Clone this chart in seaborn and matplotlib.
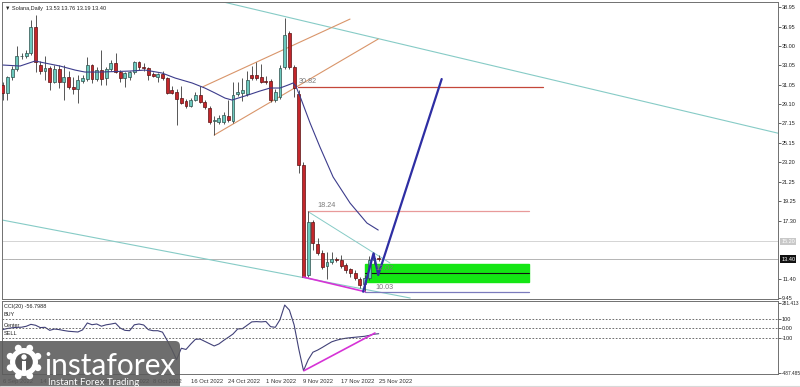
import numpy as np
import pandas as pd
import matplotlib
matplotlib.use("Agg")
import matplotlib.pyplot as plt
import matplotlib.transforms as mtransforms
from matplotlib.patches import Rectangle, FancyBboxPatch, Circle
import seaborn as sns

# Solana daily candles, bar 0 = 5 Sep 2022 ... bar 81 = 25 Nov 2022
opens = [31.3, 31.04, 30.23, 31.85, 32.66, 33.95, 33.98, 34.29, 36.92, 33.1,
         32.46, 32.76, 31.35, 32.66, 31.35, 31.85, 30.84, 30.64, 31.45, 31.65,
         33.07, 31.65, 32.56, 31.75, 32.66, 33.27, 32.36, 31.75, 31.85, 32.36,
         33.37, 32.9, 32.8, 32.2, 31.85, 32.2, 31.72, 30.5, 30.33, 29.7,
         29.4, 28.9, 29.5, 30.0, 29.35, 28.7, 27.35, 27.3, 27.3, 27.9,
         27.35, 30.1, 30.2, 30.1, 32.06, 32.1, 31.9, 31.5, 31.5, 29.5,
         29.8, 32.9, 36.3, 32.9, 30.1, 22.9, 11.8, 17.2, 14.9, 14.05,
         12.65, 13.1, 13.4, 13.3, 12.8, 12.35, 12.0, 11.35, 10.85, 11.5,
         13.3, 13.53]
highs = [31.8, 31.3, 31.95, 33.0, 35.0, 34.3, 34.6, 37.63, 38.14, 33.5,
         33.98, 33.0, 33.07, 33.07, 33.07, 32.46, 31.85, 32.06, 32.06, 33.88,
         33.2, 32.9, 34.59, 32.9, 33.57, 34.29, 32.6, 32.4, 32.5, 33.5,
         33.45, 33.3, 32.9, 32.4, 32.3, 32.5, 31.9, 30.9, 30.6, 30.9,
         29.6, 29.7, 30.3, 30.9, 29.5, 28.9, 27.9, 28.0, 28.3, 29.5,
         31.4, 31.4, 31.8, 32.5, 33.0, 33.4, 33.2, 32.0, 31.7, 30.6,
         33.07, 37.8, 36.5, 33.1, 30.5, 23.2, 18.24, 17.4, 15.5, 14.3,
         14.15, 14.15, 13.6, 13.8, 13.0, 12.5, 12.3, 11.6, 11.8, 13.7,
         14.0, 13.76]
lows = [30.6, 29.52, 29.52, 31.6, 32.5, 33.7, 33.8, 34.1, 32.36, 32.2,
        31.55, 30.5, 31.2, 30.7, 29.52, 30.6, 30.13, 29.22, 31.2, 31.5,
        31.25, 31.5, 31.04, 31.04, 32.5, 32.3, 31.35, 30.84, 31.6, 32.2,
        32.6, 32.5, 31.55, 31.9, 31.4, 31.6, 30.1, 30.1, 27.0, 29.1,
        28.7, 28.8, 29.4, 29.2, 28.6, 27.1, 25.97, 27.1, 27.1, 27.3,
        27.2, 29.9, 29.4, 29.9, 31.6, 31.6, 31.2, 31.1, 29.3, 29.3,
        29.6, 32.7, 32.7, 29.85, 22.1, 11.55, 11.6, 14.3, 13.8, 12.4,
        11.35, 12.9, 13.1, 12.5, 12.0, 11.6, 11.3, 10.43, 10.03, 11.3,
        12.9, 13.19]
closes = [31.04, 30.23, 31.85, 32.66, 33.98, 34.02, 34.29, 36.92, 33.37, 32.46,
          32.76, 31.35, 32.66, 31.35, 31.85, 30.84, 30.64, 31.55, 31.75, 33.07,
          31.65, 32.56, 31.65, 32.66, 33.27, 32.36, 31.75, 32.26, 32.36, 33.37,
          32.84, 32.75, 32.1, 32.0, 32.2, 31.8, 30.27, 30.27, 29.6, 29.2,
          28.9, 29.5, 30.0, 29.35, 28.85, 27.3, 27.5, 27.7, 28.0, 27.5,
          30.0, 30.3, 30.5, 31.55, 31.75, 31.75, 31.4, 31.3, 29.52, 30.3,
          32.76, 36.1, 32.9, 30.7, 22.93, 11.6, 17.2, 15.0, 13.98, 12.6,
          13.07, 13.4, 13.35, 12.7, 12.3, 12.0, 11.45, 10.8, 11.5, 13.3,
          13.53, 13.40]

# moving average (bar, price)
ma_bars = [1.06, 4.7, 7.9, 10, 13.2, 16.4, 18.5, 21.7, 28.1, 31.3, 34.9, 37.7,
           41.3, 44, 46.2, 48.3, 49.8, 51.1, 53.2, 55.7, 57.9, 60, 61.7, 62.8,
           63.4, 64.5, 66.4, 68.5, 71.3, 74.9, 78.5, 80.9]
ma_vals = [33.07, 32.97, 33.48, 33.27, 32.97, 32.56, 32.36, 32.36, 32.46, 32.56,
           32.26, 31.75, 31.25, 30.74, 30.23, 29.72, 29.52, 29.72, 30.03, 30.43,
           30.74, 30.74, 31.04, 31.25, 30.9, 29.6, 27.19, 24.76, 21.72, 19.08,
           17.05, 16.34]

# CCI(20), one value per bar
cci = [-20, -12, 0, 8, 12, 14, 24, 45, 35, 10, 13, -20, -6, -12, -22, -30, -34,
       -38, -15, 60, 41, 49, 25, 40, 48, 58, 5, -20, -24, 40, 49, 38, -13, -24,
       -24, -40, -130, -230, -339, -215, -228, -170, -118, -115, -140, -165, -190,
       -168, -130, -96, -60, -5, -2, 35, 72, 75, 72, 76, 20, 13, 96, 255, 200, 40,
       -225, -459, -340, -258, -235, -206, -175, -145, -128, -115, -106, -100, -95,
       -90, -85, -75, -62, -57]

price_ticks = [38.95, 36.95, 35.00, 33.05, 31.05, 29.10, 27.15, 25.15, 23.20,
               21.25, 19.25, 17.30, 11.40, 9.45]
cci_ticks = [281.413, 100, 0, -100, -487.485]
cci_tick_labels = ["281.413", "100", "0.00", "-100", "-487.485"]
date_bars = [1, 9, 17, 25, 33, 41, 49, 57, 65, 73, 81]
date_labels = ["6 Sep 2022", "14 Sep 2022", "22 Sep 2022", "30 Sep 2022",
               "8 Oct 2022", "16 Oct 2022", "24 Oct 2022", "1 Nov 2022",
               "9 Nov 2022", "17 Nov 2022", "25 Nov 2022"]

sns.set_theme(style="white")
plt.rcParams['font.family'] = ['Liberation Sans', 'DejaVu Sans']

fig = plt.figure(figsize=(8, 3.87), dpi=100)
ax = fig.add_axes([0.0025, 0.2274, 0.97, 0.7674])
axc = fig.add_axes([0.0025, 0.0336, 0.97, 0.1886])

df = pd.DataFrame(dict(bar=np.arange(len(closes)), open=opens, high=highs,
                       low=lows, close=closes))
up = df.close >= df.open
bottom = df[["open", "close"]].min(axis=1)
height = (df.close - df.open).abs().clip(lower=0.07)

# candles
ax.vlines(df.bar, df.low, df.high, color="#3a3a3a", lw=0.6, zorder=3)
ax.bar(df.bar[up], height[up], bottom=bottom[up], width=0.62, color="#6cc8bd",
       edgecolor="#2d4f4b", linewidth=0.5, zorder=4)
ax.bar(df.bar[~up], height[~up], bottom=bottom[~up], width=0.62, color="#c3262b",
       edgecolor="#5a1212", linewidth=0.5, zorder=4)

sns.lineplot(x=ma_bars, y=ma_vals, ax=ax, color="#3c3c8c", lw=0.8,
             estimator=None, sort=False, zorder=5)

# horizontal reference lines
ax.axhline(15.20, color="#d4d4d4", lw=0.7, zorder=1)
ax.axhline(13.40, color="#b4b4b4", lw=0.7, zorder=1)

# drawn objects
ax.plot([46.2, 166.5], [39.66, 26.1], color="#86cbc6", lw=0.8, zorder=2)
ax.plot([0.85, 87.7], [17.36, 9.45], color="#86cbc6", lw=0.8, zorder=2)
ax.plot([66, 83.4], [18.2, 13.0], color="#86cbc6", lw=0.7, zorder=2)
ax.plot([43.6, 74.9], [30.87, 37.73], color="#d9956a", lw=0.8, zorder=2)
ax.plot([46.0, 80.9], [25.97, 35.71], color="#d9956a", lw=0.8, zorder=2)
ax.plot([63.8, 116], [30.82, 30.82], color="#c4473a", lw=0.9, zorder=2)
ax.plot([66, 113], [18.24, 18.24], color="#e89a9a", lw=0.9, zorder=2)
ax.add_patch(Rectangle((78.1, 11.07), 113 - 78.1, 12.90 - 11.07,
                       color="#14e614", zorder=2))
ax.plot([78.1, 113], [12.02, 12.02], color="#111111", lw=0.8, zorder=3)
ax.plot([78.1, 113], [10.03, 10.03], color="#7b7bbd", lw=0.9, zorder=3)
ax.plot([64.9, 78.1], [11.58, 10.09], color="#d633d6", lw=1.2, zorder=6)
ax.plot([77.7, 79.9, 80.9, 94.4], [10.09, 13.98, 11.78, 31.65],
        color="#2e2ea3", lw=1.6, zorder=6)

lbl = dict(fontsize=5.2, color="#7a7a7a", zorder=7)
ax.text(63.9, 31.05, "30.82", ha="left", va="bottom", **lbl)
ax.text(68.0, 18.45, "18.24", ha="left", va="bottom", **lbl)
ax.text(80.3, 12.1, "12.02", ha="left", va="bottom", **lbl)
ax.text(80.3, 10.15, "10.03", ha="left", va="bottom", **lbl)

ax.set_xlim(0.85, 165.96)
ax.set_ylim(9.35, 39.46)
ax.set_xticks([])
ax.yaxis.tick_right()
ax.set_yticks(price_ticks)
ax.set_yticklabels([f"{v:.2f}" for v in price_ticks])
ax.tick_params(axis="y", length=2, width=0.5, pad=1, labelsize=4, colors="#222222")

tr = mtransforms.blended_transform_factory(ax.transAxes, ax.transData)
ax.text(1.004, 15.20, "15.20", transform=tr, fontsize=4, color="white",
        va="center", ha="left", clip_on=False,
        bbox=dict(boxstyle="square,pad=0.2", fc="#c8c8c8", ec="none"))
ax.text(1.004, 13.40, "13.40", transform=tr, fontsize=4, color="white",
        va="center", ha="left", clip_on=False,
        bbox=dict(boxstyle="square,pad=0.2", fc="#111111", ec="none"))
ax.text(0.004, 0.985, "\u25bc Solana,Daily  13.53 13.76 13.19 13.40",
        transform=ax.transAxes, fontsize=4, color="#222222", va="top", ha="left")

# CCI panel
sns.lineplot(x=df.bar, y=cci, ax=axc, color="#414178", lw=0.8, estimator=None)
for lv in (100, 0, -100):
    axc.axhline(lv, color="#555555", lw=0.6, ls=(0, (2, 2)))
axc.plot([65.1, 80.2], [-459, -49], color="#d633d6", lw=1.2)
axc.set_xlim(0.85, 165.96)
axc.set_ylim(-495, 299)
axc.yaxis.tick_right()
axc.set_yticks(cci_ticks)
axc.set_yticklabels(cci_tick_labels)
axc.tick_params(axis="y", length=2, width=0.5, pad=0.8, labelsize=4, colors="#222222")
for t in axc.get_yticklabels():
    if len(t.get_text()) > 5:
        t.set_fontsize(3.4)
axc.set_xticks(date_bars)
axc.set_xticklabels(date_labels, ha="left")
axc.tick_params(axis="x", length=2, width=0.5, pad=1.5, labelsize=4.2, colors="#333333")
axc.set_xlabel("")
axc.set_ylabel("")
ctr = mtransforms.blended_transform_factory(axc.transAxes, axc.transData)
axc.text(0.003, 0.96, "CCI(20) -56.7988", transform=axc.transAxes, fontsize=4,
         color="#222222", va="top")
axc.text(0.002, 150, "BUY", transform=ctr, fontsize=4, color="#222222", va="center")
axc.text(0.002, 35, "Center", transform=ctr, fontsize=4, color="#222222", va="center")
axc.text(0.002, -55, "SELL", transform=ctr, fontsize=4, color="#222222", va="center")

for a in (ax, axc):
    for s in a.spines.values():
        s.set_color("#707070")
        s.set_linewidth(0.7)

# watermark overlay (pixel coordinates)
ov = fig.add_axes([0, 0, 1, 1], zorder=10)
ov.set_xlim(0, 800)
ov.set_ylim(387, 0)
ov.axis("off")
ov.patch.set_alpha(0)
ov.plot([0, 800], [386, 386], color="#d8d8d8", lw=0.8)
ov.add_patch(FancyBboxPatch((-6, 341), 186, 52, boxstyle="round,pad=0,rounding_size=5",
                            fc="#5a5a5a", ec="none", alpha=0.88))
ov.add_patch(Circle((24, 362), 14, fc="white", ec="none"))
for k in range(8):
    ang = np.pi / 8 + k * np.pi / 4
    ov.add_patch(Circle((24 + 15 * np.cos(ang), 362 + 15 * np.sin(ang)), 3.4,
                        fc="white", ec="none"))
ov.add_patch(Circle((24, 362), 8.8, fc="#5a5a5a", ec="none"))
ov.add_patch(Circle((24, 357), 2.7, fc="white", ec="none"))
ov.add_patch(Rectangle((21.7, 360.5), 4.6, 11.5, fc="white", ec="none"))
ov.text(44, 375, "instaforex", fontsize=21.5, color="white", family="Lato",
        ha="left", va="baseline")
ov.text(48, 385, "Instant Forex Trading", fontsize=7, color="white", family="Lato",
        ha="left", va="baseline")

fig.savefig("out.png", dpi=100)
